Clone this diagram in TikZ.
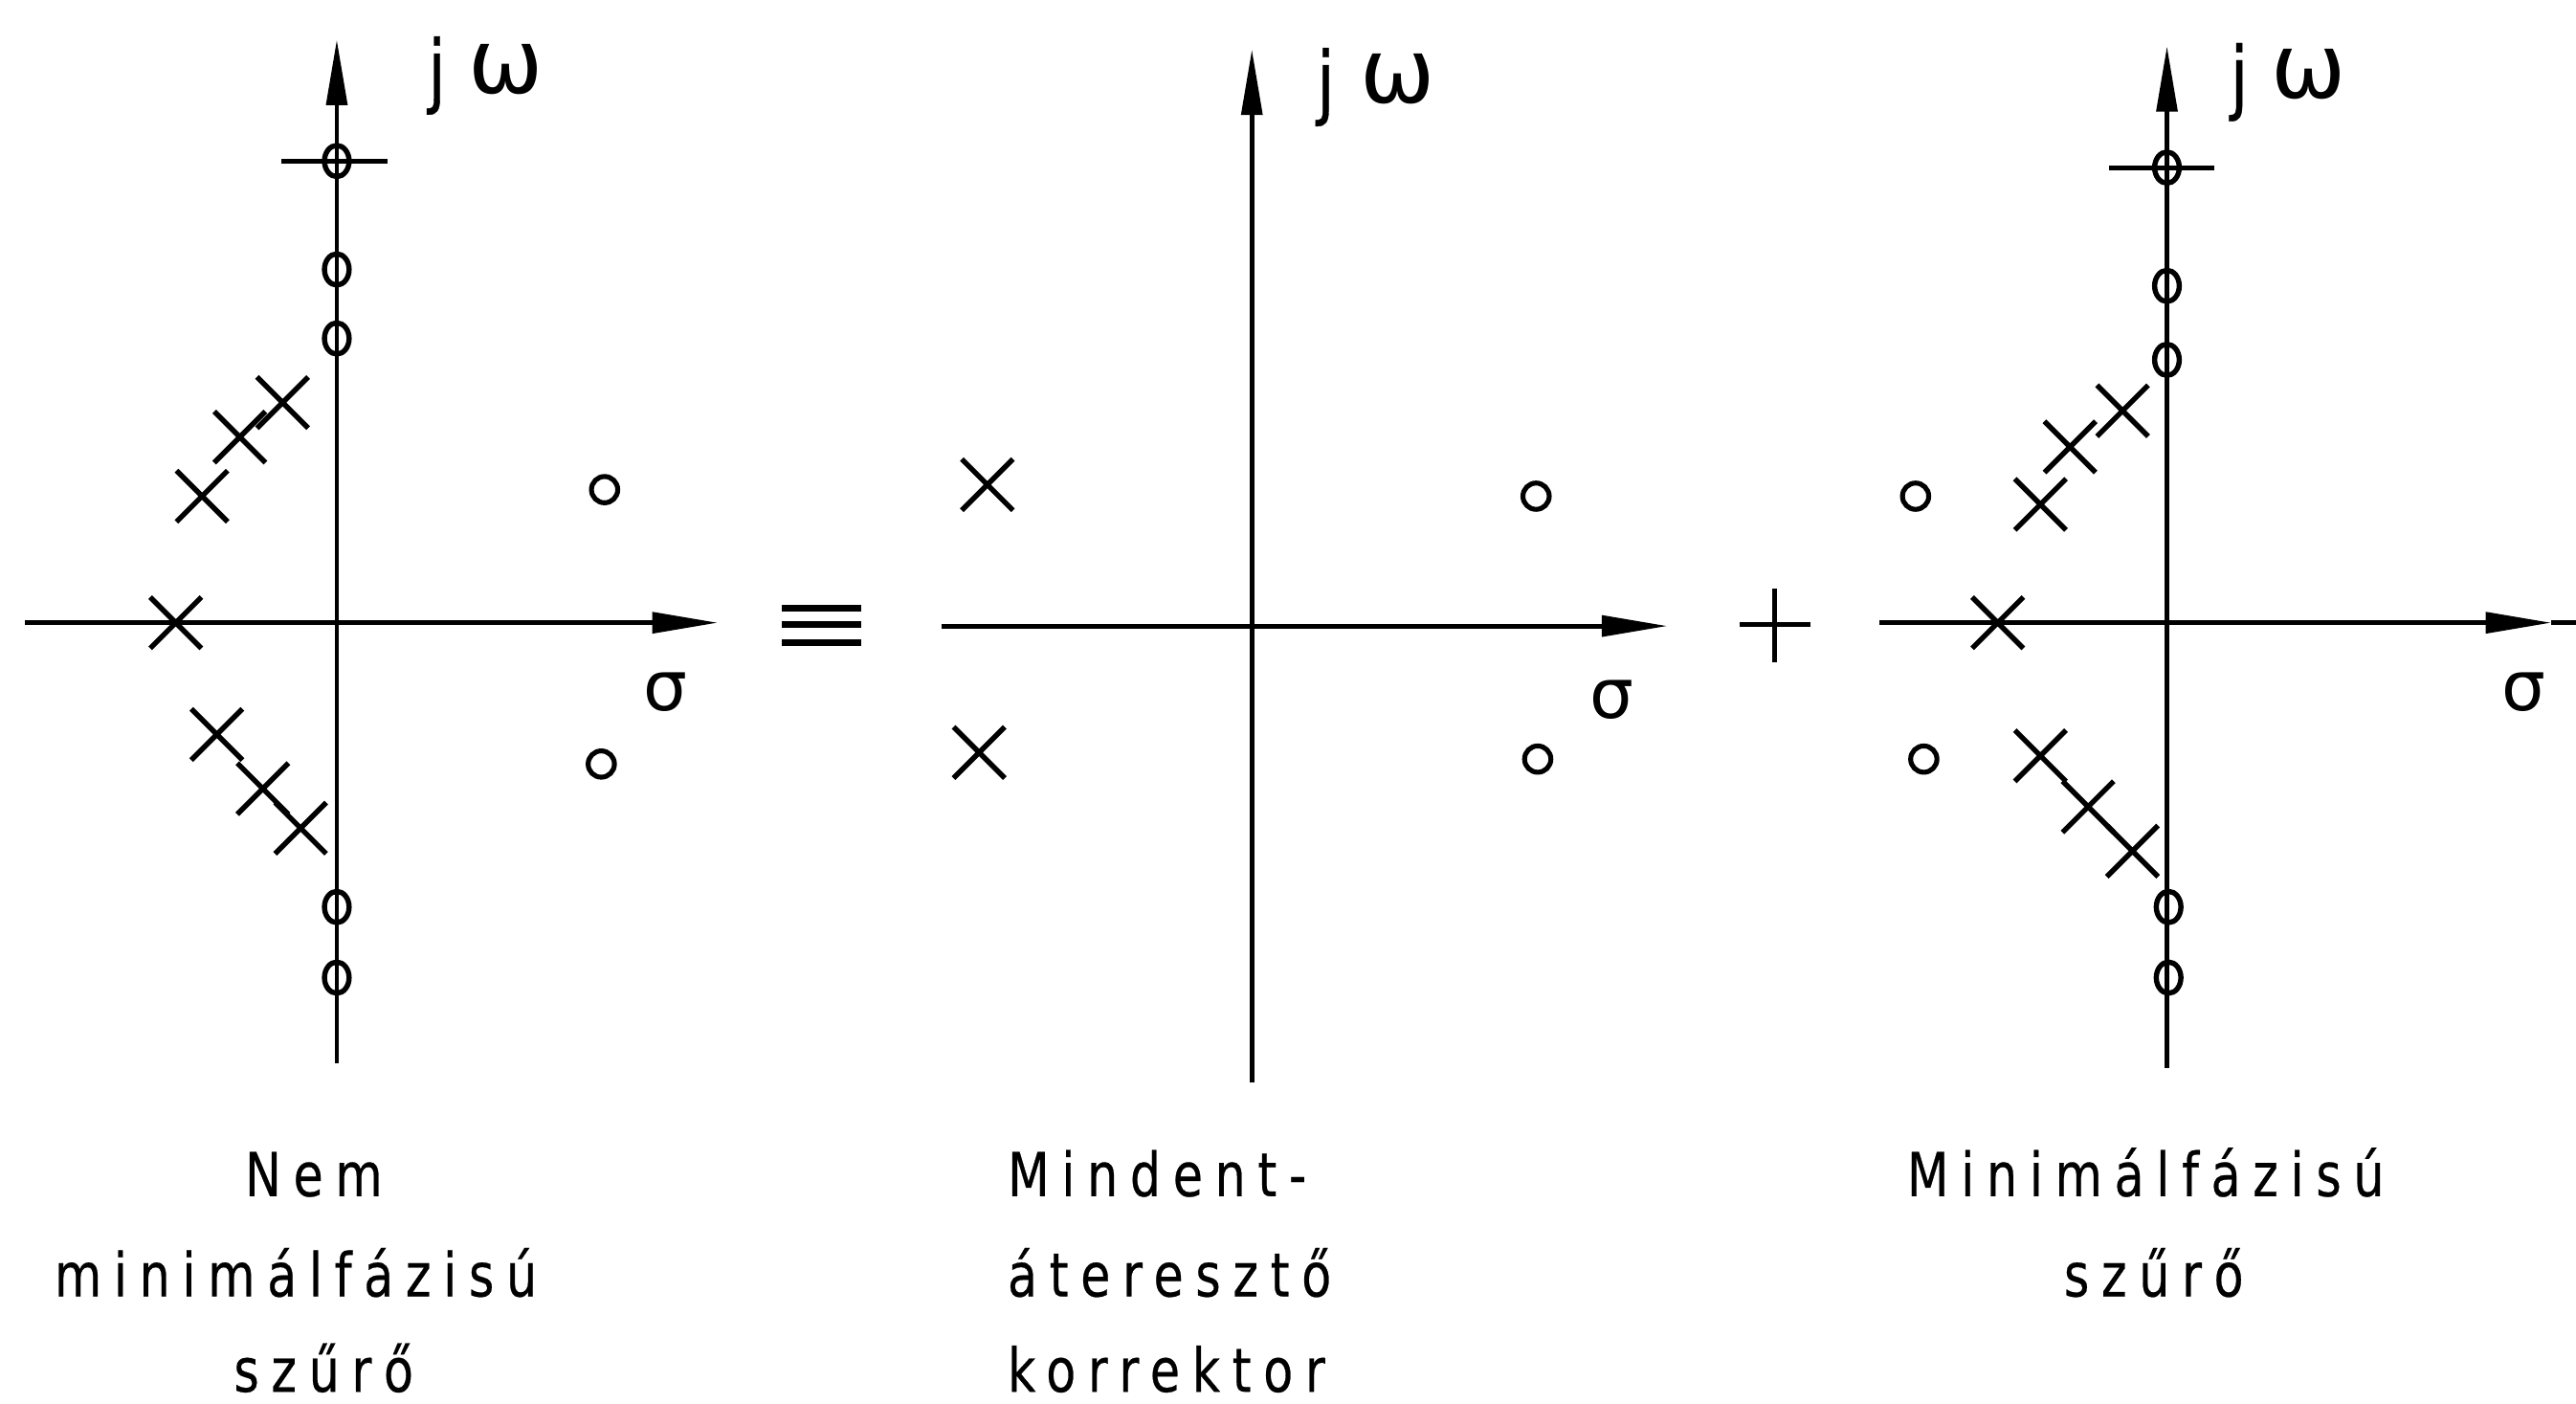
\documentclass[tikz,border=0pt]{standalone}
\usepackage{fontspec}
\setmainfont{DejaVu Sans}
\newfontfamily\labfont[FakeStretch=0.8,LetterSpace=20,FakeBold=0.4]{DejaVu Sans}
\newfontfamily\grkfont{DejaVu Sans}
\usetikzlibrary{arrows.meta,shapes.misc,shapes.geometric}
\begin{document}
\begin{tikzpicture}[x=0.02cm,y=-0.02cm,
  axisline/.style={line width=1.6pt},
  axarrow/.style={line width=1.6pt,-{Triangle[length=0.8cm,width=0.25cm]}},
  pole/.style={draw,cross out,line width=1.8pt,minimum size=0.56cm,inner sep=0pt},
  zero/.style={draw,circle,line width=1.7pt,minimum size=0.32cm,inner sep=0pt},
  azero/.style={draw,ellipse,line width=1.8pt,minimum width=0.3cm,minimum height=0.38cm,inner sep=0pt},
  lab/.style={font=\labfont\fontsize{21}{25}\selectfont,inner sep=0pt},
  jlab/.style={font=\labfont\fontsize{28}{30}\selectfont,inner sep=0pt},
  wlab/.style={font=\grkfont\fontsize{31}{33}\selectfont,inner sep=0pt},
  slab/.style={font=\grkfont\fontsize{24}{26}\selectfont,inner sep=0pt},
  signline/.style={line width=2.2pt},
]
\useasboundingbox (0,0) rectangle (1568,854);

% ---------------- Panel 1 ----------------
\coordinate (v1s) at (205,647);
\coordinate (v1n) at (205,24);
\coordinate (h1w) at (15,379);
\coordinate (h1e) at (437,379);
\coordinate (t1w) at (171,98);
\coordinate (t1e) at (236,98);
\draw[axarrow] (v1s) -- (v1n);
\draw[axarrow] (h1w) -- (h1e);
\draw[axisline] (t1w) -- (t1e);
\node[azero] (z1a) at (205,98) {};
\node[azero] (z1b) at (205,164) {};
\node[azero] (z1c) at (205,206) {};
\node[azero] (z1d) at (205,552) {};
\node[azero] (z1e) at (205,595) {};
\node[pole] (p1a) at (107,379) {};
\node[pole] (p1b) at (123,302) {};
\node[pole] (p1c) at (146,266) {};
\node[pole] (p1d) at (172,245) {};
\node[pole] (p1e) at (132,447) {};
\node[pole] (p1f) at (160,480) {};
\node[pole] (p1g) at (183,504) {};
\node[zero] (z1f) at (368,298) {};
\node[zero] (z1g) at (366,465) {};
\node[slab] (s1) at (405,421) {σ};
\node[jlab] (j1) at (266,46) {j};
\node[wlab] (w1) at (308,42) {ω};

% equivalence sign
\coordinate (eqa) at (476,370); \coordinate (eqb) at (524,370);
\coordinate (eqc) at (476,380); \coordinate (eqd) at (524,380);
\coordinate (eqe) at (476,391); \coordinate (eqf) at (524,391);
\draw[signline] (eqa) -- (eqb);
\draw[signline] (eqc) -- (eqd);
\draw[signline] (eqe) -- (eqf);

% ---------------- Panel 2 ----------------
\coordinate (v2s) at (762,659);
\coordinate (v2n) at (762,30);
\coordinate (h2w) at (573,381);
\coordinate (h2e) at (1015,381);
\draw[axarrow] (v2s) -- (v2n);
\draw[axarrow] (h2w) -- (h2e);
\node[pole] (p2a) at (601,295) {};
\node[pole] (p2b) at (596,458) {};
\node[zero] (z2a) at (935,302) {};
\node[zero] (z2b) at (936,462) {};
\node[slab] (s2) at (981,426) {σ};
\node[jlab] (j2) at (807,53) {j};
\node[wlab] (w2) at (851,48) {ω};

% plus sign
\coordinate (pla) at (1059,380); \coordinate (plb) at (1102,380);
\coordinate (plc) at (1080,358); \coordinate (pld) at (1080,403);
\draw[axisline] (pla) -- (plb);
\draw[axisline] (plc) -- (pld);

% ---------------- Panel 3 ----------------
\coordinate (v3s) at (1319,650);
\coordinate (v3n) at (1319,28);
\coordinate (h3w) at (1144,379);
\coordinate (h3t) at (1553,379);
\coordinate (h3e) at (1568,379);
\coordinate (t3w) at (1284,102);
\coordinate (t3e) at (1348,102);
\draw[axarrow] (v3s) -- (v3n);
\draw[axarrow] (h3w) -- (h3t);
\draw[axisline] (h3t) -- (h3e);
\draw[axisline] (t3w) -- (t3e);
\node[azero] (z3a) at (1319,102) {};
\node[azero] (z3b) at (1319,174) {};
\node[azero] (z3c) at (1319,219) {};
\node[azero] (z3d) at (1320,552) {};
\node[azero] (z3e) at (1320,595) {};
\node[pole] (p3a) at (1216,379) {};
\node[pole] (p3b) at (1242,307) {};
\node[pole] (p3c) at (1260,272) {};
\node[pole] (p3d) at (1292,250) {};
\node[pole] (p3e) at (1242,460) {};
\node[pole] (p3f) at (1271,491) {};
\node[pole] (p3g) at (1298,518) {};
\node[zero] (z3f) at (1166,302) {};
\node[zero] (z3g) at (1171,462) {};
\node[slab] (s3) at (1536,421) {σ};
\node[jlab] (j3) at (1363,50) {j};
\node[wlab] (w3) at (1405,45) {ω};

% ---------------- Captions ----------------
\node[lab,anchor=base] (c1a) at (191,728) {Nem};
\node[lab,anchor=base] (c1b) at (180,789) {minimálfázisú};
\node[lab,anchor=base] (c1c) at (197,847) {szűrő};
\node[lab,anchor=base west] (c2a) at (613,728) {Mindent-};
\node[lab,anchor=base west] (c2b) at (613,789) {áteresztő};
\node[lab,anchor=base west] (c2c) at (613,847) {korrektor};
\node[lab,anchor=base] (c3a) at (1306,728) {Minimálfázisú};
\node[lab,anchor=base] (c3b) at (1311,789) {szűrő};
\end{tikzpicture}
\end{document}
